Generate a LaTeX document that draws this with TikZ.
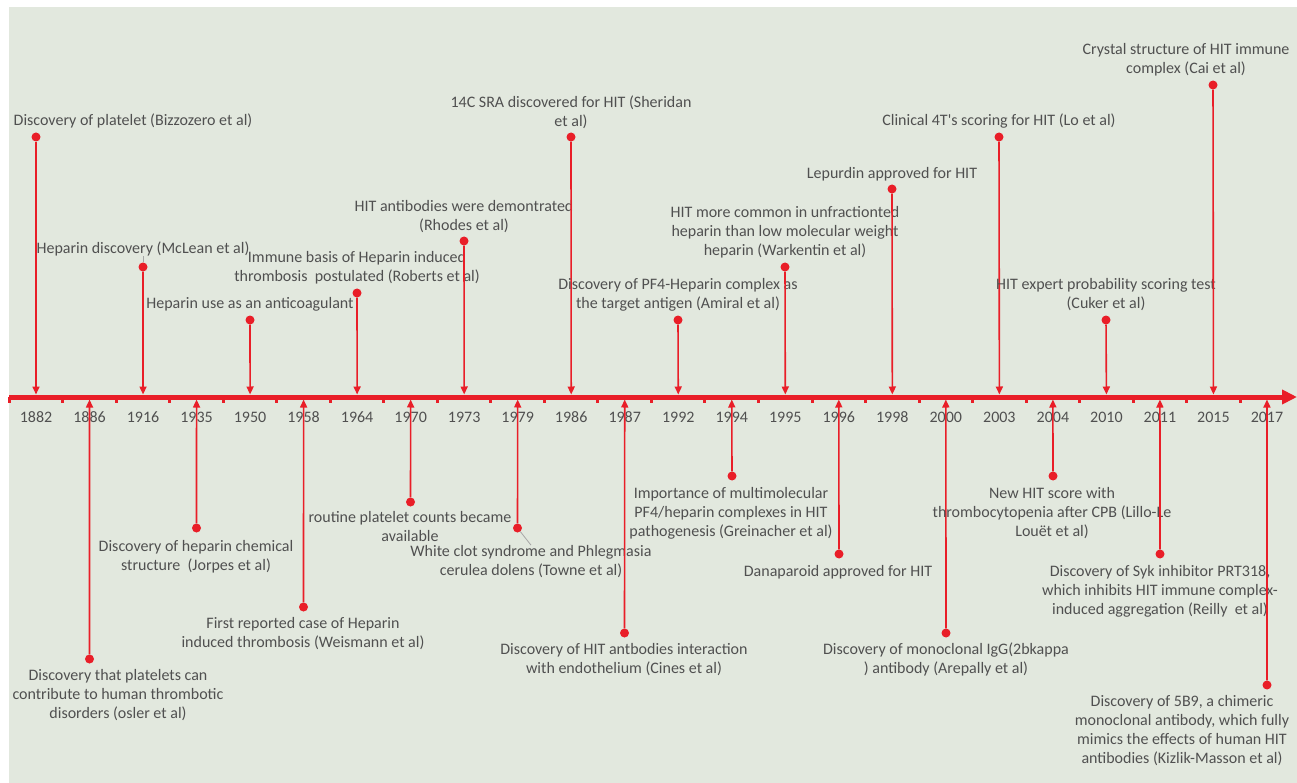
\documentclass[tikz,border=0pt]{standalone}
\usepackage{fontspec}
\setmainfont{Carlito}
\usepackage{tikz}
\usetikzlibrary{arrows.meta}
\definecolor{hitred}{RGB}{233,30,40}
\definecolor{panel}{RGB}{226,232,222}
\definecolor{ink}{RGB}{80,80,80}
\tikzset{
  event/.style={draw=hitred, line width=1.6pt, -{Triangle[length=8pt,width=7pt]}},
  evdot/.style={circle, fill=hitred, inner sep=0pt, minimum size=9pt},
  evtext/.style={text=ink, align=center, inner sep=0pt, font=\fontsize{16}{19}\selectfont},
  yearlbl/.style={text=ink, inner sep=0pt, font=\fontsize{16}{19}\selectfont},
  leader/.style={draw=gray!70, line width=0.8pt}
}

\begin{document}
\begin{tikzpicture}[x=1pt, y=-1pt]
    \useasboundingbox (0,0) rectangle (1297,783);
    \fill[panel] (9,7) rectangle (1297,783);

    % Time axis
    \coordinate (axstart) at (9,397);
    \coordinate (axend) at (1297,397);
    \draw[hitred, line width=5pt, -{Triangle[length=15pt,width=14pt]}] (axstart) -- (axend);
    \foreach \k in {0,...,23}
        \fill[hitred] ({7.7+53.52*\k},397) rectangle ++(3,6);

    % Years on the axis
    \foreach \yr [count=\i from 0] in {1882,1886,1916,1935,1950,1958,1964,1970,1973,1979,1986,1987,1992,1994,1995,1996,1998,2000,2003,2004,2010,2011,2015,2017} {
        \node[yearlbl] (y\yr) at ({36+53.52*\i},417) {\yr};
        \coordinate (up\yr) at ({36+53.52*\i},394.5);
        \coordinate (dn\yr) at ({36+53.52*\i},399.5);
    }

    % Events above the axis
    \node[evdot] (d1882) at (36,137) {};
    \node[evtext] (n1882) at (133,121) {Discovery of platelet (Bizzozero et al)};
    \draw[event] (d1882) -- (up1882);

    \node[evdot] (d1916) at (143,267) {};
    \node[evtext] (n1916) at (143,249) {Heparin discovery (McLean et al)};
    \draw[event] (d1916) -- (up1916);
    \draw[leader] (n1916) -- (d1916);

    \node[evdot] (d1950) at (250,320) {};
    \node[evtext] (n1950) at (250,304) {Heparin use as an anticoagulant};
    \draw[event] (d1950) -- (up1950);

    \node[evdot] (d1964) at (357,293) {};
    \node[evtext] (n1964) at (357,268) {Immune basis of Heparin induced\\thrombosis~ postulated (Roberts et al)};
    \draw[event] (d1964) -- (up1964);

    \node[evdot] (d1973) at (464,241) {};
    \node[evtext] (n1973) at (464,216.5) {HIT antibodies were demontrated\\(Rhodes et al)};
    \draw[event] (d1973) -- (up1973);

    \node[evdot] (d1986) at (571,137) {};
    \node[evtext] (n1986) at (571,112.5) {14C SRA discovered for HIT (Sheridan\\et al)};
    \draw[event] (d1986) -- (up1986);

    \node[evdot] (d1992) at (678,320) {};
    \node[evtext] (n1992) at (678,294.5) {Discovery of PF4-Heparin complex as\\the target antigen (Amiral et al)};
    \draw[event] (d1992) -- (up1992);

    \node[evdot] (d1995) at (785,267) {};
    \node[evtext] (n1995) at (785,232.5) {HIT more common in unfractionted\\heparin than low molecular weight\\heparin (Warkentin et al)};
    \draw[event] (d1995) -- (up1995);

    \node[evdot] (d1998) at (892,189) {};
    \node[evtext] (n1998) at (892,174) {Lepurdin approved for HIT};
    \draw[event] (d1998) -- (up1998);

    \node[evdot] (d2003) at (999,137) {};
    \node[evtext] (n2003) at (999,121) {Clinical 4T\textquotesingle s scoring for HIT (Lo et al)};
    \draw[event] (d2003) -- (up2003);

    \node[evdot] (d2010) at (1106,320) {};
    \node[evtext] (n2010) at (1106,295) {HIT expert probability scoring test\\(Cuker et al)};
    \draw[event] (d2010) -- (up2010);

    \node[evdot] (d2015) at (1213,85) {};
    \node[evtext] (n2015) at (1186,60) {Crystal structure of HIT immune\\complex (Cai et al)};
    \draw[event] (d2015) -- (up2015);

    % Events below the axis
    \node[evdot] (d1886) at (89.5,659) {};
    \node[evtext] (n1886) at (118,695.5) {Discovery that platelets can\\contribute to human thrombotic\\disorders (osler et al)};
    \draw[event] (d1886) -- (dn1886);

    \node[evdot] (d1935) at (196.5,528) {};
    \node[evtext] (n1935) at (196,556.5) {Discovery of heparin chemical\\structure~ (Jorpes et al)};
    \draw[event] (d1935) -- (dn1935);

    \node[evdot] (d1958) at (303.5,607) {};
    \node[evtext] (n1958) at (303,633.5) {First reported case of Heparin\\induced thrombosis (Weismann et al)};
    \draw[event] (d1958) -- (dn1958);

    \node[evdot] (d1970) at (410.5,502) {};
    \node[evtext] (n1970) at (410,526.5) {routine platelet counts became\\available};
    \draw[event] (d1970) -- (dn1970);

    \node[evdot] (d1979) at (517.5,528) {};
    \node[evtext] (n1979) at (531,561.5) {White clot syndrome and Phlegmasia\\cerulea dolens (Towne et al)};
    \draw[event] (d1979) -- (dn1979);
    \draw[leader] (d1979) -- (n1979.north);

    \node[evdot] (d1987) at (624.5,633) {};
    \node[evtext] (n1987) at (624,659.5) {Discovery of HIT antbodies interaction\\with endothelium (Cines et al)};
    \draw[event] (d1987) -- (dn1987);

    \node[evdot] (d1994) at (732,476) {};
    \node[evtext] (n1994) at (731,513) {Importance of multimolecular\\PF4/heparin complexes in HIT\\pathogenesis (Greinacher et al)};
    \draw[event] (d1994) -- (dn1994);

    \node[evdot] (d1996) at (839,554) {};
    \node[evtext] (n1996) at (838,572) {Danaparoid approved for HIT};
    \draw[event] (d1996) -- (dn1996);

    \node[evdot] (d2000) at (946,633) {};
    \node[evtext] (n2000) at (946,659.5) {Discovery of monoclonal IgG(2bkappa\\) antibody (Arepally et al)};
    \draw[event] (d2000) -- (dn2000);

    \node[evdot] (d2004) at (1053,476) {};
    \node[evtext] (n2004) at (1052,513) {New HIT score with\\thrombocytopenia after CPB (Lillo-Le\\Louët et al)};
    \draw[event] (d2004) -- (dn2004);

    \node[evdot] (d2011) at (1160,554) {};
    \node[evtext] (n2011) at (1160,591.5) {Discovery of Syk inhibitor PRT318,\\which inhibits HIT immune complex-\\induced aggregation (Reilly~ et al)};
    \draw[event] (d2011) -- (dn2011);

    \node[evdot] (d2017) at (1267,685) {};
    \node[evtext] (n2017) at (1182,731) {Discovery of 5B9, a chimeric\\monoclonal antibody, which fully\\mimics the effects of human HIT\\antibodies (Kizlik-Masson et al)};
    \draw[event] (d2017) -- (dn2017);
\end{tikzpicture}
\end{document}
